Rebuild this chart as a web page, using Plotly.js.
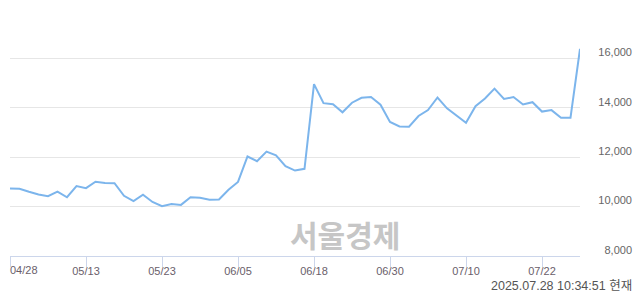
<!DOCTYPE html>
<html>
<head>
<meta charset="utf-8">
<script src="https://cdn.plot.ly/plotly-3.0.1.min.js"></script>
<style>html,body{margin:0;padding:0;background:#fff;}#chart{width:640px;height:294px;}</style>
</head>
<body>
<div id="chart"></div>
<script>
const dates = ["04/28","04/29","04/30","05/02","05/07","05/08","05/09","05/12","05/13","05/14",
  "05/15","05/16","05/19","05/20","05/21","05/22","05/23","05/26","05/27","05/28",
  "05/29","05/30","06/02","06/04","06/05","06/09","06/10","06/11","06/12","06/13",
  "06/16","06/17","06/18","06/19","06/20","06/23","06/24","06/25","06/26","06/27",
  "06/30","07/01","07/02","07/03","07/04","07/07","07/08","07/09","07/10","07/11",
  "07/14","07/15","07/16","07/17","07/18","07/21","07/22","07/23","07/24","07/25","07/28"];
const prices = [10730,10720,10600,10490,10420,10610,10380,10830,10750,11010,
  10960,10950,10440,10220,10480,10190,10020,10110,10070,10380,
  10360,10280,10290,10680,11000,12030,11840,12230,12080,11640,
  11460,11530,14960,14190,14150,13820,14210,14410,14440,14130,
  13430,13250,13240,13670,13910,14420,13980,13680,13400,14070,
  14380,14780,14360,14440,14140,14230,13850,13910,13600,13600,16390];
const xTickDates = ["04/28","05/13","05/23","06/05","06/18","06/30","07/10","07/22"];
const yTickVals = [8000,10000,12000,14000,16000,18000];
const yTickText = ["8,000","10,000","12,000","14,000","16,000",""];
const watermark = "서울경제";
const stamp = "2025.07.28 10:34:51 현재";

// first date label is left-aligned at its tick (drawn as annotation), the rest by the axis
const xTickText = xTickDates.map((d,i)=> i===0 ? "" : d);

const trace = {
  x: dates, y: prices, type: 'scatter', mode: 'lines',
  line: {color: '#7cb5ec', width: 2}, hoverinfo: 'skip'
};
const T = 9, B = 37.5, H = 294 - T - B;
const layout = {
  width: 640, height: 294,
  margin: {l: 10, r: 8, t: T, b: B},
  paper_bgcolor: '#ffffff', plot_bgcolor: '#ffffff',
  showlegend: false,
  font: {family: '"Liberation Sans", Arial, sans-serif', size: 11, color: '#666666'},
  xaxis: {
    type: 'category', domain: [0, 570/622], range: [0, 60],
    tickmode: 'array', tickvals: xTickDates, ticktext: xTickText,
    ticks: 'outside', ticklen: 10, tickcolor: '#ccd6eb', tickwidth: 1,
    showline: true, linecolor: '#ccd6eb', linewidth: 1,
    showgrid: false, zeroline: false, ticklabelstandoff: -5,
    tickfont: {size: 11, color: '#6a5e6a'}, fixedrange: true
  },
  yaxis: {
    range: [8000, 18005], anchor: 'free', position: 1, side: 'left',
    tickmode: 'array', tickvals: yTickVals, ticktext: yTickText,
    ticks: '', showline: false, zeroline: false,
    showgrid: true, gridcolor: '#e6e6e6', gridwidth: 1,
    ticklabelshift: -6,
    tickfont: {size: 11, color: '#666666'}, fixedrange: true
  },
  annotations: [
    {text: xTickDates[0], xref: 'x', yref: 'paper', x: xTickDates[0], y: (294-B-271)/H,
     xanchor: 'left', yanchor: 'middle', showarrow: false, borderpad: 0, xshift: -1,
     font: {family: '"Liberation Sans", Arial, sans-serif', size: 11, color: '#6a5e6a'}},
    {text: watermark, xref: 'paper', yref: 'paper', x: (345-10)/622, y: (294-B-234)/H,
     xanchor: 'center', yanchor: 'middle', showarrow: false,
     font: {family: '"Noto Sans CJK KR", sans-serif', size: 30, color: '#c6c6c6', weight: 700}},
    {text: stamp, xref: 'paper', yref: 'paper', x: (634-10)/622, y: (294-B-287)/H,
     xanchor: 'right', yanchor: 'middle', showarrow: false,
     font: {family: '"Liberation Sans", "Noto Sans CJK KR", sans-serif', size: 12.5, color: '#555555'}}
  ]
};
Plotly.newPlot('chart', [trace], layout, {displayModeBar: false, staticPlot: true});
</script>
</body>
</html>
